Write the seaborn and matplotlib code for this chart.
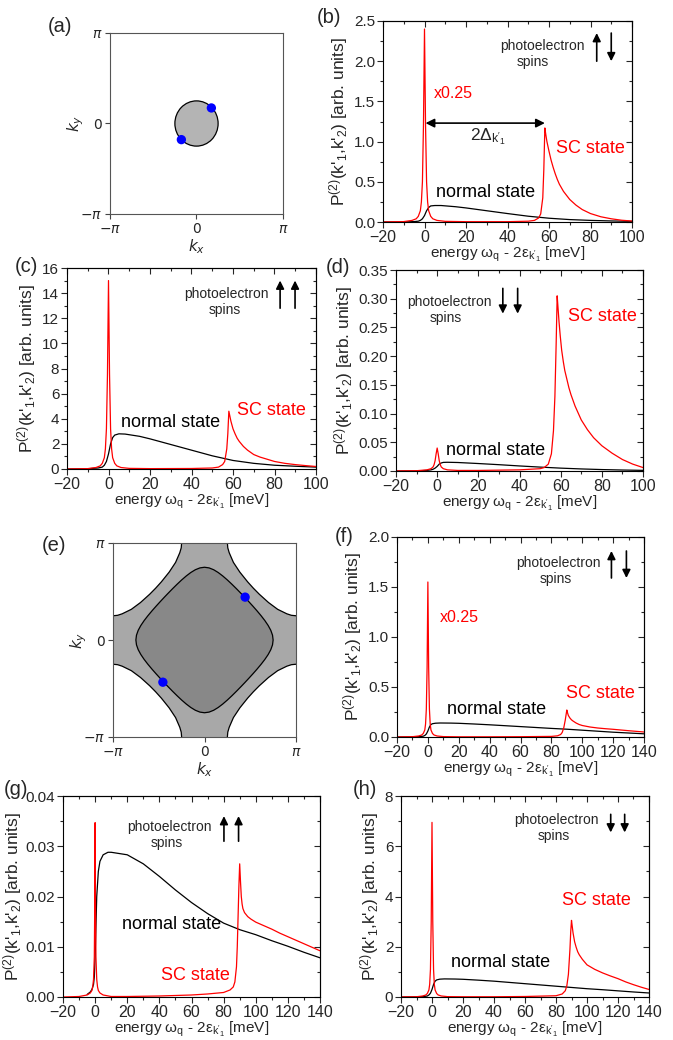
import numpy as np
import matplotlib
matplotlib.use('Agg')
import matplotlib.pyplot as plt
import seaborn as sns
from matplotlib.ticker import MultipleLocator, FormatStrFormatter
from matplotlib.patches import Circle, Polygon

# ---------------- data ----------------
# (a) circular Fermi surface, radius in rad, and the two k-points
fs_radius_a = 0.785
dots_a_x = [0.54, -0.55]
dots_a_y = [0.54, -0.56]

# (e) Fermi surfaces, first quadrant, in units of pi
inner_x = [0, 0.05, 0.1, 0.15, 0.2, 0.25, 0.3, 0.35, 0.4, 0.44, 0.4795, 0.5279,
           0.5745, 0.6188, 0.6597, 0.6956, 0.7244, 0.7433, 0.75]
inner_y = inner_x[::-1]
outer_x = [0.25, 0.2545, 0.27, 0.316, 0.386, 0.471, 0.534, 0.6, 0.7, 0.8, 0.9, 0.95, 1.0]
outer_y = [1.0, 0.95, 0.9, 0.8, 0.7, 0.6, 0.534, 0.471, 0.386, 0.316, 0.27, 0.2545, 0.25]
dots_e_x = [0.444, -0.455]
dots_e_y = [0.442, -0.435]

# (b) up-down spins, x0.25
b_sc_x = [-20, -10, -6, -4, -3, -2, -1.5, -1, -0.5, 0, 0.5, 1, 1.5, 2, 3, 4, 6, 10, 20, 40,
          50, 53, 55, 56, 57, 57.5, 58, 58.5, 59, 60, 61, 62, 63, 64, 65, 67, 70, 73, 76,
          80, 85, 90, 95, 100]
b_sc_y = [0, 0.005, 0.02, 0.04, 0.07, 0.14, 0.25, 0.5, 1.2, 2.4, 1.2, 0.5, 0.25, 0.14, 0.07,
          0.04, 0.02, 0.008, 0.004, 0.004, 0.01, 0.02, 0.05, 0.1, 0.3, 0.65, 1.17, 1.08,
          1.0, 0.88, 0.77, 0.68, 0.6, 0.53, 0.47, 0.38, 0.28, 0.21, 0.155, 0.105, 0.065,
          0.04, 0.022, 0.012]
b_n_x = [-20, -10, -5, -3, -2, -1, 0, 1, 2, 3, 5, 8, 15, 20, 30, 40, 50, 60, 70, 80, 90, 100]
b_n_y = [0, 0.001, 0.005, 0.01, 0.02, 0.04, 0.08, 0.14, 0.18, 0.2, 0.205, 0.205, 0.19,
         0.175, 0.14, 0.105, 0.072, 0.047, 0.03, 0.02, 0.013, 0.008]

# (c) up-up spins
c_sc_x = b_sc_x
c_sc_y = [0, 0.03, 0.12, 0.25, 0.45, 0.9, 1.6, 3.2, 7.5, 15, 7.5, 3.2, 1.6, 0.9, 0.45,
          0.25, 0.12, 0.05, 0.03, 0.04, 0.08, 0.15, 0.35, 0.6, 1.6, 2.8, 4.6, 4.2, 3.8,
          3.2, 2.8, 2.45, 2.2, 2.0, 1.8, 1.5, 1.15, 0.95, 0.8, 0.6, 0.45, 0.35, 0.27, 0.2]
c_n_x = b_n_x
c_n_y = [0, 0.02, 0.08, 0.15, 0.3, 0.6, 1.2, 2.0, 2.5, 2.7, 2.8, 2.78, 2.6, 2.4, 1.95,
         1.5, 1.05, 0.68, 0.45, 0.3, 0.22, 0.15]

# (d) down-down spins
d_sc_x = [-20, -10, -5, -3, -2, -1.5, -1, -0.5, 0, 0.5, 1, 1.5, 2, 3, 5, 10, 20, 30, 40,
          45, 50, 52, 54, 55.5, 56.5, 57.2, 57.8, 58.3, 58.7, 59.2, 59.8, 60.5, 61.3, 62,
          63, 64, 65, 67, 70, 73, 76, 80, 85, 90, 95, 100]
d_sc_y = [0, 0.0005, 0.002, 0.004, 0.007, 0.011, 0.018, 0.03, 0.04, 0.03, 0.018, 0.011,
          0.007, 0.004, 0.002, 0.001, 0.001, 0.0015, 0.002, 0.003, 0.004, 0.006, 0.012,
          0.03, 0.07, 0.13, 0.22, 0.305, 0.285, 0.26, 0.235, 0.21, 0.19, 0.175, 0.16,
          0.145, 0.133, 0.113, 0.089, 0.072, 0.058, 0.044, 0.031, 0.02, 0.012, 0.006]
d_n_x = [-20, -10, -5, -3, -2, -1, 0, 1, 2, 3, 5, 10, 20, 30, 40, 50, 60, 70, 80, 90, 100]
d_n_y = [0, 0.0002, 0.001, 0.002, 0.003, 0.005, 0.008, 0.012, 0.014, 0.015, 0.0152,
         0.0148, 0.013, 0.011, 0.0088, 0.0068, 0.005, 0.0036, 0.0025, 0.0017, 0.0011]

# (f) up-down spins, x0.25
f_sc_x = [-20, -10, -6, -4, -3, -2, -1.5, -1, -0.5, 0, 0.5, 1, 1.5, 2, 3, 4, 6, 10, 20, 40,
          60, 80, 84, 86, 87, 88, 89, 89.5, 90, 90.5, 91, 92, 93, 94, 96, 98, 100, 105,
          110, 115, 120, 130, 140]
f_sc_y = [0, 0.003, 0.01, 0.02, 0.035, 0.07, 0.13, 0.28, 0.7, 1.55, 0.7, 0.28, 0.13, 0.07,
          0.035, 0.02, 0.01, 0.004, 0.002, 0.002, 0.003, 0.006, 0.012, 0.025, 0.045, 0.09,
          0.17, 0.22, 0.27, 0.24, 0.215, 0.19, 0.172, 0.16, 0.14, 0.125, 0.115, 0.1, 0.09,
          0.083, 0.077, 0.063, 0.05]
f_n_x = [-20, -10, -5, -3, -2, -1, 0, 1, 2, 3, 5, 8, 15, 20, 30, 40, 50, 60, 70, 80, 90,
         100, 110, 120, 130, 140]
f_n_y = [0, 0.001, 0.004, 0.008, 0.015, 0.03, 0.06, 0.1, 0.125, 0.133, 0.138, 0.14, 0.139,
         0.137, 0.13, 0.122, 0.113, 0.104, 0.095, 0.086, 0.078, 0.068, 0.058, 0.048, 0.04,
         0.032]

# (g) up-up spins
g_sc_x = [-20, -10, -5, -3, -2, -1.5, -1, -0.5, -0.2, 0, 0.2, 0.5, 1, 1.5, 2, 3, 5, 10, 20,
          40, 60, 70, 80, 84, 86, 87, 88, 88.5, 89, 89.5, 90, 90.5, 91, 91.5, 92, 93, 95,
          97, 100, 105, 110, 115, 120, 130, 140]
g_sc_y = [0, 0.0001, 0.0004, 0.0008, 0.0013, 0.002, 0.0035, 0.008, 0.02, 0.0347, 0.02,
          0.008, 0.0035, 0.002, 0.0013, 0.0008, 0.0004, 0.0001, 0.0001, 0.0002, 0.0004,
          0.0006, 0.0009, 0.0014, 0.002, 0.003, 0.006, 0.01, 0.016, 0.022, 0.0265, 0.023,
          0.02, 0.0185, 0.0176, 0.0168, 0.016, 0.0155, 0.0149, 0.0142, 0.0135, 0.0127,
          0.012, 0.0106, 0.0092]
g_n_x = [-5, -3, -2, -1, -0.5, 0, 0.5, 1, 2, 3, 5, 8, 10, 20, 30, 40, 50, 60, 70, 80, 90,
         100, 110, 120, 130, 140]
g_n_y = [0.0005, 0.001, 0.0015, 0.0025, 0.004, 0.008, 0.014, 0.02, 0.025, 0.027, 0.0283,
         0.0288, 0.0288, 0.0283, 0.0265, 0.024, 0.0213, 0.0188, 0.0166, 0.0147, 0.0134,
         0.0124, 0.0112, 0.0101, 0.0089, 0.0078]

# (h) down-down spins
h_sc_x = [-20, -10, -6, -4, -3, -2, -1.5, -1, -0.5, 0, 0.5, 1, 1.5, 2, 3, 4, 6, 10, 20, 40,
          60, 80, 84, 86, 87, 88, 89, 89.5, 90, 90.5, 91, 92, 93, 94, 95, 97, 100, 105,
          110, 115, 120, 125, 130, 135, 140]
h_sc_y = [0, 0.01, 0.04, 0.08, 0.14, 0.28, 0.5, 1.1, 3.0, 6.95, 3.0, 1.1, 0.5, 0.28, 0.14,
          0.08, 0.04, 0.015, 0.01, 0.01, 0.02, 0.05, 0.12, 0.25, 0.45, 0.9, 1.9, 2.6, 3.05,
          2.8, 2.55, 2.2, 1.98, 1.8, 1.68, 1.5, 1.28, 1.1, 0.96, 0.84, 0.73, 0.6, 0.49,
          0.39, 0.3]
h_n_x = f_n_x
h_n_y = [0, 0.005, 0.02, 0.04, 0.08, 0.15, 0.3, 0.5, 0.63, 0.68, 0.71, 0.72, 0.715, 0.705,
         0.67, 0.63, 0.58, 0.53, 0.48, 0.43, 0.38, 0.33, 0.29, 0.245, 0.2, 0.16]

# ---------------- style ----------------
sns.set_style('ticks')
plt.rcParams['font.family'] = ['Liberation Sans', 'DejaVu Sans']
plt.rcParams['mathtext.fontset'] = 'custom'
plt.rcParams['mathtext.rm'] = 'Liberation Sans'
plt.rcParams['mathtext.it'] = 'Liberation Sans:italic'
plt.rcParams['mathtext.bf'] = 'Liberation Sans:bold'

RED = '#ff0000'
W, H = 673, 1040
fig = plt.figure(figsize=(W / 100, H / 100), dpi=100)

YLABEL = r"P$^{(2)}$(k'$_{1}$,k'$_{2}$) [arb. units]"
XLABEL = r"energy ω$_{\rm q}$ - 2ε$_{{\rm k}'_{1}}$ [meV]"


def place(l, t, r, b):
    return fig.add_axes([l / W, 1 - b / H, (r - l) / W, (b - t) / H])


def origin_panel(ax, xmax, ymax, ystep, yfmt, ypad=3):
    ax.set_xlim(-20, xmax)
    ax.set_ylim(0, ymax)
    ax.xaxis.set_major_locator(MultipleLocator(20))
    ax.xaxis.set_minor_locator(MultipleLocator(10))
    ax.yaxis.set_major_locator(MultipleLocator(ystep))
    ax.yaxis.set_minor_locator(MultipleLocator(ystep / 2))
    ax.yaxis.set_major_formatter(FormatStrFormatter(yfmt))
    ax.tick_params(which='major', direction='out', length=4, width=0.8, pad=1.5)
    ax.tick_params(axis='x', labelsize=11.5)
    ax.tick_params(axis='y', labelsize=11)
    ax.tick_params(which='minor', direction='out', length=2.5, width=0.8)
    for sp in ax.spines.values():
        sp.set_visible(True)
        sp.set_linewidth(0.8)
        sp.set_color('black')
    top = ax.secondary_xaxis('top')
    top.xaxis.set_major_locator(MultipleLocator(20))
    top.xaxis.set_minor_locator(MultipleLocator(10))
    top.tick_params(which='both', direction='in', labeltop=False, width=0.8)
    top.tick_params(which='major', length=4)
    top.tick_params(which='minor', length=2.5)
    right = ax.secondary_yaxis('right')
    right.yaxis.set_major_locator(MultipleLocator(ystep))
    right.yaxis.set_minor_locator(MultipleLocator(ystep / 2))
    right.tick_params(which='both', direction='in', labelright=False, width=0.8)
    right.tick_params(which='major', length=4)
    right.tick_params(which='minor', length=2.5)
    ax.set_xlabel(XLABEL, fontsize=11, labelpad=0)
    ax.set_ylabel(YLABEL, fontsize=12.5, labelpad=ypad)


def curves(ax, nx, ny, sx, sy):
    sns.lineplot(x=nx, y=ny, ax=ax, color='black', lw=0.9, sort=False, estimator=None)
    sns.lineplot(x=sx, y=sy, ax=ax, color=RED, lw=0.9, sort=False, estimator=None)


def arrow(ax, x, y0, y1, ms=12):
    ax.annotate('', xy=(x, y1), xytext=(x, y0),
                arrowprops=dict(arrowstyle='-|>', color='black', lw=1.2,
                                mutation_scale=ms, shrinkA=0, shrinkB=0))


def spin_text(ax, x1, y1, x2, y2):
    ax.text(x1, y1, 'photoelectron', fontsize=10, ha='center', va='center')
    ax.text(x2, y2, 'spins', fontsize=10, ha='center', va='center')


def bz_panel(ax):
    ax.set_xlim(-np.pi, np.pi)
    ax.set_ylim(-np.pi, np.pi)
    ticks = [-np.pi, 0, np.pi]
    labels = [r'$-\pi$', r'$0$', r'$\pi$']
    ax.set_xticks(ticks)
    ax.set_yticks(ticks)
    ax.set_xticklabels(labels, math_fontfamily='dejavusans', fontsize=10)
    ax.set_yticklabels(labels, math_fontfamily='dejavusans', fontsize=10)
    ax.tick_params(direction='out', length=3.5, width=0.8, pad=2, color='#444444')
    for sp in ax.spines.values():
        sp.set_visible(True)
        sp.set_linewidth(0.8)
        sp.set_color('#555555')
    ax.set_xlabel(r'$k_x$', math_fontfamily='dejavusans', fontsize=11, labelpad=1)
    ax.set_ylabel(r'$k_y$', math_fontfamily='dejavusans', fontsize=11, labelpad=-4)


def panel_label(px, py, s):
    fig.text(px / W, 1 - py / H, s, fontsize=14.5, ha='left', va='top')


# ---------------- (a) ----------------
ax = place(110, 33, 283, 214)
bz_panel(ax)
ax.add_patch(Circle((0, 0), fs_radius_a, facecolor='#b4b4b4', edgecolor='black', lw=0.9))
sns.scatterplot(x=dots_a_x, y=dots_a_y, ax=ax, color='#0000ff', s=45, edgecolor='none', zorder=5)
panel_label(48, 17, '(a)')

# ---------------- (b) ----------------
ax = place(383, 21, 632, 222)
origin_panel(ax, 100, 2.5, 0.5, '%.1f')
curves(ax, b_n_x, b_n_y, b_sc_x, b_sc_y)
ax.text(4.5, 1.6, 'x0.25', color=RED, fontsize=11.5, ha='left', va='center')
ax.annotate('', xy=(58, 1.23), xytext=(0.5, 1.23),
            arrowprops=dict(arrowstyle='<|-|>', color='black', lw=1.2, mutation_scale=13,
                            shrinkA=0, shrinkB=0))
ax.text(30.5, 1.06, r"2Δ$_{{\rm k}'_{1}}$", fontsize=12.5, ha='center', va='center')
ax.text(63.5, 0.92, 'SC state', color=RED, fontsize=13, ha='left', va='center')
ax.text(5.5, 0.37, 'normal state', color='black', fontsize=13, ha='left', va='center')
spin_text(ax, 57, 2.19, 52, 1.99)
arrow(ax, 83, 2.0, 2.35)
arrow(ax, 90, 2.35, 2.0)
panel_label(317, 8, '(b)')

# ---------------- (c) ----------------
ax = place(67, 268, 316, 469)
origin_panel(ax, 100, 16, 2, '%d')
curves(ax, c_n_x, c_n_y, c_sc_x, c_sc_y)
ax.text(62.1, 4.65, 'SC state', color=RED, fontsize=13, ha='left', va='center')
ax.text(6.0, 3.72, 'normal state', color='black', fontsize=13, ha='left', va='center')
spin_text(ax, 56.8, 13.95, 56, 12.68)
arrow(ax, 82.7, 12.8, 15.0)
arrow(ax, 89.9, 12.8, 15.0)
panel_label(15, 257, '(c)')

# ---------------- (d) ----------------
ax = place(396, 270, 643, 471)
origin_panel(ax, 100, 0.35, 0.05, '%.2f')
curves(ax, d_n_x, d_n_y, d_sc_x, d_sc_y)
ax.text(63.8, 0.269, 'SC state', color=RED, fontsize=13, ha='left', va='center')
ax.text(4.4, 0.035, 'normal state', color='black', fontsize=13, ha='left', va='center')
spin_text(ax, 5.9, 0.295, 4.4, 0.267)
arrow(ax, 31.9, 0.318, 0.274)
arrow(ax, 39.1, 0.318, 0.274)
panel_label(326, 258, '(d)')

# ---------------- (e) ----------------
ax = place(113, 543, 296, 737)
bz_panel(ax)
ax.set_facecolor('#a8a8a8')
ix = np.array(inner_x)
iy = np.array(inner_y)
loop_x = np.concatenate([ix, ix[::-1], -ix, -ix[::-1]]) * np.pi
loop_y = np.concatenate([iy, -iy[::-1], -iy, iy[::-1]]) * np.pi
ax.add_patch(Polygon(np.column_stack([loop_x, loop_y]), closed=True,
                     facecolor='#888888', edgecolor='black', lw=0.9))
ox = np.array(outer_x)
oy = np.array(outer_y)
for sx, sy in [(1, 1), (-1, 1), (-1, -1), (1, -1)]:
    cx = np.append(ox * sx, sx) * np.pi
    cy = np.append(oy * sy, sy) * np.pi
    ax.add_patch(Polygon(np.column_stack([cx, cy]), closed=True,
                         facecolor='white', edgecolor='none'))
    sns.lineplot(x=ox * sx * np.pi, y=oy * sy * np.pi, ax=ax, color='black', lw=0.9,
                 sort=False, estimator=None)
sns.scatterplot(x=np.array(dots_e_x) * np.pi, y=np.array(dots_e_y) * np.pi, ax=ax,
                color='#0000ff', s=45, edgecolor='none', zorder=5)
ax.set_xlim(-np.pi, np.pi)
ax.set_ylim(-np.pi, np.pi)
panel_label(42, 536, '(e)')

# ---------------- (f) ----------------
ax = place(397, 537, 644, 737)
origin_panel(ax, 140, 2.0, 0.5, '%.1f')
curves(ax, f_n_x, f_n_y, f_sc_x, f_sc_y)
ax.text(8.0, 1.2, 'x0.25', color=RED, fontsize=11.5, ha='left', va='center')
ax.text(89.4, 0.433, 'SC state', color=RED, fontsize=13, ha='left', va='center')
ax.text(12.7, 0.273, 'normal state', color='black', fontsize=13, ha='left', va='center')
spin_text(ax, 84.7, 1.74, 83, 1.58)
arrow(ax, 118.9, 1.59, 1.86)
arrow(ax, 128.6, 1.86, 1.59)
panel_label(335, 527, '(f)')

# ---------------- (g) ----------------
ax = place(63, 796, 320, 997)
origin_panel(ax, 140, 0.04, 0.01, '%.2f', ypad=1)
curves(ax, g_n_x, g_n_y, g_sc_x, g_sc_y)
ax.text(17.0, 0.0145, 'normal state', color='black', fontsize=13, ha='left', va='center')
ax.text(41.3, 0.0043, 'SC state', color=RED, fontsize=13, ha='left', va='center')
spin_text(ax, 46.5, 0.03375, 44.8, 0.0307)
arrow(ax, 80.2, 0.031, 0.036)
arrow(ax, 89.3, 0.031, 0.036)
panel_label(4, 780, '(g)')

# ---------------- (h) ----------------
ax = place(401, 796, 649, 997)
origin_panel(ax, 140, 8, 2, '%d')
curves(ax, h_n_x, h_n_y, h_sc_x, h_sc_y)
ax.text(83.6, 3.85, 'SC state', color=RED, fontsize=13, ha='left', va='center')
ax.text(12.2, 1.36, 'normal state', color='black', fontsize=13, ha='left', va='center')
spin_text(ax, 80.4, 7.04, 78.9, 6.41)
arrow(ax, 115.3, 7.27, 6.55)
arrow(ax, 124.3, 7.27, 6.55)
panel_label(353, 780, '(h)')

fig.savefig('out.png', dpi=100, facecolor='white')
